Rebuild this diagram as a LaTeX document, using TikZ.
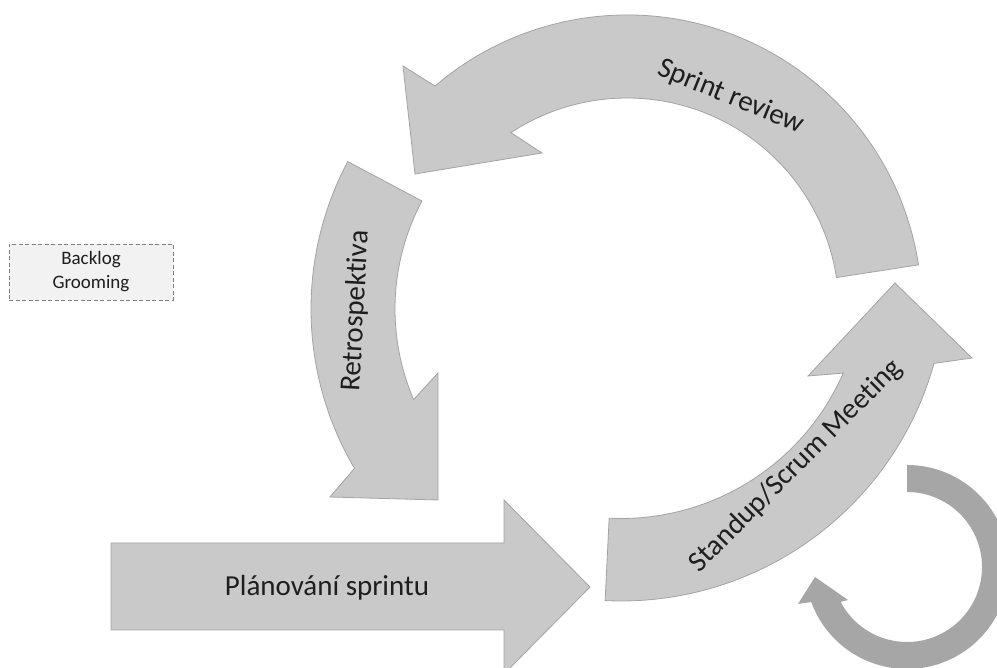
\documentclass[tikz,border=0pt]{standalone}
\usepackage{fontspec}
\setmainfont{Carlito}[Ligatures=NoCommon]
\usetikzlibrary{calc}

\definecolor{arrowfill}{HTML}{C9C9C9}
\definecolor{arrowline}{HTML}{A3A3A3}
\definecolor{loopfill}{HTML}{A6A6A6}
\definecolor{notefill}{HTML}{F2F2F2}
\definecolor{noteline}{HTML}{7F7F7F}
\definecolor{labeltext}{HTML}{1E1E1E}

\begin{document}
\begin{tikzpicture}[x=1pt,y=1pt,
  phase/.style={fill=arrowfill, draw=arrowline, line width=0.8pt, line join=miter},
  loopring/.style={fill=loopfill},
  phaselabel/.style={text=labeltext, font=\fontsize{29}{34}\selectfont, inner sep=0pt},
  note/.style={draw=noteline, line width=0.9pt, dash pattern=on 4pt off 2.5pt,
    fill=notefill, minimum width=164pt, minimum height=56pt, align=center,
    text=labeltext, font=\fontsize{19}{24}\selectfont, inner sep=0pt}]

\useasboundingbox (0,0) rectangle (997,668);
\clip (0,0) rectangle (997,668);

% centres of the curved arrows
\coordinate (c1) at (627,358);   % sprint review
\coordinate (c2) at (625,359);   % retrospective
\coordinate (c3) at (621,392);   % daily standup
\coordinate (c4) at (907,101);   % small repeat loop

% Sprint review arrow (counter-clockwise, head at upper left)
\path[phase] ($(c1)+(8.8:295)$) arc[start angle=8.8, end angle=130.6, radius=295]
  -- (403,602) -- (415,494) -- (542,515)
  -- ($(c1)+(123.2:212)$) arc[start angle=123.2, end angle=8.8, radius=212] -- cycle;

% Retrospective arrow (down the left side)
\path[phase] ($(c2)+(152:314)$) arc[start angle=152, end angle=210.5, radius=314]
  -- (330,171) -- (438,168) -- (438,295)
  -- ($(c2)+(203.2:230)$) arc[start angle=203.2, end angle=152, radius=230] -- cycle;

% Standup / scrum meeting arrow (up the right side)
\path[phase] ($(c3)+(267.2:325)$) arc[start angle=267.2, end angle=344.4, radius=325]
  -- (972,310) -- (895,385) -- (808,292)
  -- ($(c3)+(336.4:242.5)$) arc[start angle=336.4, end angle=267.2, radius=242.5] -- cycle;

% Sprint planning arrow
\path[phase] (111,38) -- (111,125) -- (504,125) -- (504,168) -- (590,81)
  -- (504,-6) -- (504,38) -- cycle;

% Small daily loop
\path[loopring] ($(c4)+(90:102)$) arc[start angle=90, end angle=-159.9, radius=102]
  -- (798,64) -- (815,91) -- (848,68)
  -- ($(c4)+(-152.2:75)$) arc[start angle=-152.2, end angle=90, radius=75] -- cycle;

% Labels
\node[phaselabel, rotate=-22] (review) at (731,571) {Sprint review};
\node[phaselabel, rotate=87] (retro) at (356,357) {Retrospektiva};
\node[phaselabel, rotate=45] (standup) at (796,202) {Standup/Scrum Meeting};
\node[phaselabel] (planning) at (327,80) {Plánování sprintu};

\node[note] (grooming) at (91,396) {Backlog\\Grooming};

\end{tikzpicture}
\end{document}
